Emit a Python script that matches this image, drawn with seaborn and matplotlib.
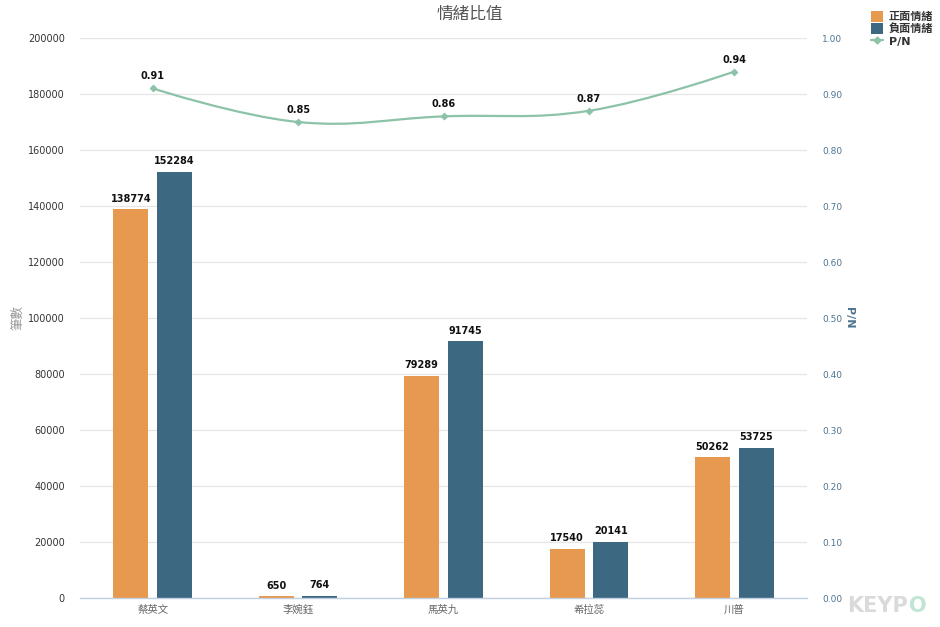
import numpy as np
import pandas as pd
import matplotlib
matplotlib.use("Agg")
import matplotlib.pyplot as plt
from matplotlib.path import Path
from matplotlib.patches import PathPatch, Patch
from matplotlib.lines import Line2D
import seaborn as sns

sns.set_theme(style="white")
plt.rcParams['font.family'] = ['DejaVu Sans', 'Noto Sans CJK TC']

categories = ["蔡英文", "李婉鈺", "馬英九", "希拉蕊", "川普"]
positive = [138774, 650, 79289, 17540, 50262]
negative = [152284, 764, 91745, 20141, 53725]
pn_ratio = [0.91, 0.85, 0.86, 0.87, 0.94]
series_names = ["正面情緒", "負面情緒"]
left_ticks = [0, 20000, 40000, 60000, 80000, 100000, 120000, 140000, 160000, 180000, 200000]
right_ticks = [0.0, 0.1, 0.2, 0.3, 0.4, 0.5, 0.6, 0.7, 0.8, 0.9, 1.0]

c_pos = "#E6994F"
c_neg = "#3D6882"
c_line = "#8CC2A7"
c_right = "#4E7591"

df = pd.DataFrame({
    "cat": categories * 2,
    "val": positive + negative,
    "series": [series_names[0]] * len(categories) + [series_names[1]] * len(categories),
})

fig = plt.figure(figsize=(9.4, 6.27), dpi=100)
ax = fig.add_axes([80 / 940, 29 / 627, 727 / 940, 560 / 627])

sns.barplot(data=df, x="cat", y="val", hue="series", order=categories,
            hue_order=series_names, palette=[c_pos, c_neg], width=0.6, gap=0.2,
            saturation=1, ax=ax, legend=False, edgecolor="none")

ax.set_xlim(-0.5, len(categories) - 0.5)
ax.set_ylim(0, 200000)
ax.set_yticks(left_ticks)
ax.set_yticklabels([str(t) for t in left_ticks], fontsize=7, color="#333333")
ax.tick_params(axis="y", length=0, pad=11)
ax.grid(axis="y", color="#E6E6E6", linewidth=0.9)
ax.set_axisbelow(True)
for s in ["top", "right", "left"]:
    ax.spines[s].set_visible(False)
ax.spines["bottom"].set_color("#C0D0E0")
ax.spines["bottom"].set_linewidth(1)
ax.set_xticks(np.arange(len(categories)))
ax.set_xticklabels(categories, fontsize=7.5, color="#666666")
ax.tick_params(axis="x", length=0, pad=5)
ax.set_xticks(np.arange(len(categories) + 1) - 0.5, minor=True)
ax.tick_params(axis="x", which="minor", length=8, color="#C0D0E0", width=1, direction="out")
ax.set_xlabel("")
ax.set_ylabel("")
fig.text(18 / 940, 1 - 318 / 627, "筆數", rotation=90, ha="center", va="center",
         fontsize=9, color="#999999")

for cont in ax.containers:
    for rect in cont:
        h = rect.get_height()
        ax.annotate(f"{int(round(h))}", (rect.get_x() + rect.get_width() / 2, h),
                    xytext=(0, 4), textcoords="offset points", ha="center", va="bottom",
                    fontsize=7, fontweight="bold", color="#111111")

ax2 = ax.twinx()
ax2.set_ylim(0, 1.0)
ax2.set_yticks(right_ticks)
ax2.set_yticklabels([f"{t:.2f}" for t in right_ticks], fontsize=6.5, color=c_right)
ax2.tick_params(axis="y", length=0, pad=11)
for s in ["top", "right", "left", "bottom"]:
    ax2.spines[s].set_visible(False)
ax2.set_ylabel("")
fig.text(849 / 940, 1 - 318 / 627, "P/N", rotation=270, ha="center", va="center",
         fontsize=8, color=c_right, fontweight="bold")

# Highcharts-style spline through the data points
xs = np.arange(len(pn_ratio), dtype=float)
ys = np.array(pn_ratio, dtype=float)
n = len(xs)
sm, den = 1.5, 2.5
lc = [(xs[i], ys[i]) for i in range(n)]
rc = [(xs[i], ys[i]) for i in range(n)]
for i in range(1, n - 1):
    lcx = (sm * xs[i] + xs[i - 1]) / den
    lcy = (sm * ys[i] + ys[i - 1]) / den
    rcx = (sm * xs[i] + xs[i + 1]) / den
    rcy = (sm * ys[i] + ys[i + 1]) / den
    corr = ((rcy - lcy) * (rcx - xs[i])) / (rcx - lcx) + ys[i] - rcy
    lc[i] = (lcx, lcy + corr)
    rc[i] = (rcx, rcy + corr)
verts = [(xs[0], ys[0])]
codes = [Path.MOVETO]
for i in range(1, n):
    verts += [rc[i - 1], lc[i], (xs[i], ys[i])]
    codes += [Path.CURVE4] * 3
ax2.add_patch(PathPatch(Path(verts, codes), facecolor="none", edgecolor=c_line, linewidth=1.6))
sns.scatterplot(x=xs, y=ys, marker="D", s=14, color=c_line, edgecolor=c_line, ax=ax2, legend=False, zorder=5)
for x, y in zip(xs, ys):
    ax2.annotate(f"{y:.2f}", (x, y), xytext=(0, 5), textcoords="offset points",
                 ha="center", va="bottom", fontsize=7, fontweight="bold", color="#111111")

fig.text(0.5, 1 - 14 / 627, "情緒比值", ha="center", va="center", fontsize=12, color="#555555")

handles = [Patch(facecolor=c_pos, edgecolor="none"),
           Patch(facecolor=c_neg, edgecolor="none"),
           Line2D([0], [0], color=c_line, marker="D", markersize=3.5, linewidth=1.6)]
leg = fig.legend(handles, series_names + ["P/N"], loc="upper left",
                 bbox_to_anchor=(871 / 940, 1 - 11 / 627), frameon=False,
                 prop={"size": 8, "weight": "bold"}, handlelength=1.1, handleheight=1.1,
                 handletextpad=0.5, labelspacing=0.1, borderaxespad=0, borderpad=0)
for t in leg.get_texts():
    t.set_color("#333333")

fig.text(847 / 940, 1 - 606 / 627, "KEYP", ha="left", va="center", fontsize=15,
         fontweight="bold", color="#DADADA")
fig.text(909 / 940, 1 - 606 / 627, "O", ha="left", va="center", fontsize=15,
         fontweight="bold", color="#BFE6D4")

fig.savefig("out.png", dpi=100)
